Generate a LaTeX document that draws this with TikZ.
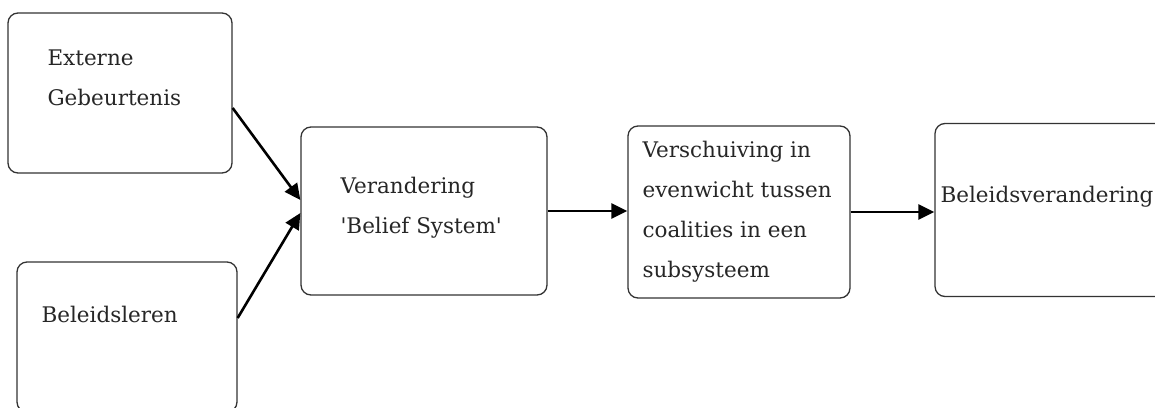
\documentclass[tikz,border=0pt]{standalone}
\usepackage{fontspec}
\setmainfont{DejaVu Serif}
\usetikzlibrary{arrows.meta,positioning}

\tikzset{
  box/.style={draw=black!80,line width=1.3pt,rounded corners=10pt,inner sep=0pt},
  txt/.style={font=\fontsize{21.5}{40}\selectfont,align=left,inner sep=0pt,text=black!85},
  flow/.style={line width=2.6pt,-{Triangle[length=16pt,width=15pt]}}
}

\begin{document}
\begin{tikzpicture}[x=1pt,y=-1pt,line join=round]
  \useasboundingbox (0,0) rectangle (1155,407);
  \begin{scope}
    \clip (0,0) rectangle (1155,407);
    % boxes
    \node[box,minimum width=224pt,minimum height=160pt] (ext) at (120,93) {};
    \node[box,minimum width=220pt,minimum height=150pt] (leer) at (127,337) {};
    \node[box,minimum width=246pt,minimum height=168pt] (bel) at (424,211) {};
    \node[box,minimum width=222pt,minimum height=172pt] (evw) at (739,212) {};
    \node[box,minimum width=240pt,minimum height=173pt] (ver) at (1055,210) {};
    % texts
    \node[txt,anchor=north west] (tExt) at ([xshift=40pt,yshift=-37pt]ext.north west) {Externe\\Gebeurtenis};
    \node[txt,anchor=north west] (tLeer) at ([xshift=25pt,yshift=-45pt]leer.north west) {Beleidsleren};
    \node[txt,anchor=north west] (tBel) at ([xshift=40pt,yshift=-51pt]bel.north west) {Verandering\\\textquotesingle Belief System\textquotesingle};
    \node[txt,anchor=north west] (tEvw) at ([xshift=15pt,yshift=-16pt]evw.north west) {Verschuiving in\\evenwicht tussen\\coalities in een\\subsysteem};
    \node[txt,anchor=base west] (tVer) at ([xshift=6pt,yshift=8pt]ver.north west |- ver.west) {Beleidsverandering};
    % arrows
    \draw[flow] ([yshift=-15pt]ext.east) -- ([yshift=11pt]bel.west);
    \draw[flow] ([yshift=19pt]leer.east) -- ([yshift=-2pt]bel.west);
    \draw[flow] (bel.east) -- (bel.east -| evw.west);
    \draw[flow] (evw.east) -- (evw.east -| ver.west);
  \end{scope}
\end{tikzpicture}
\end{document}
